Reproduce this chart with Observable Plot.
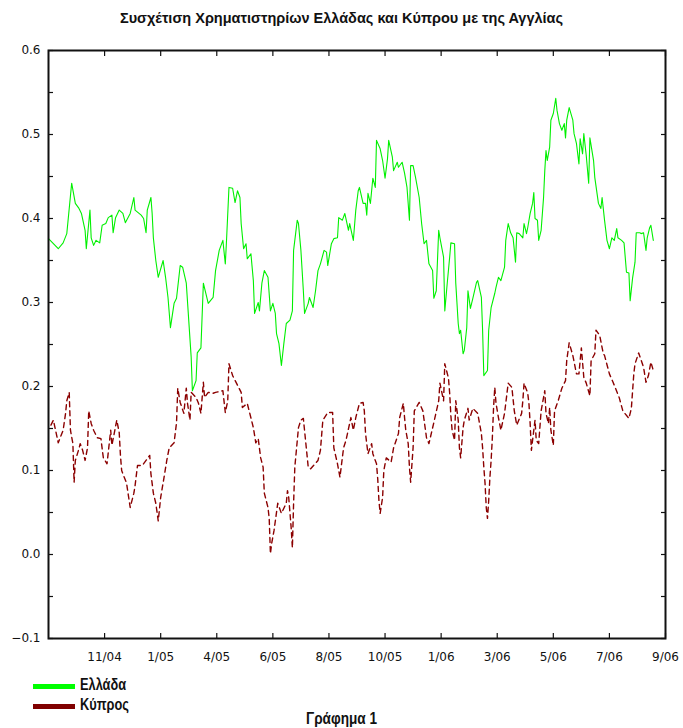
<!DOCTYPE html>
<html>
<head>
<meta charset="utf-8">
<script src="https://cdn.jsdelivr.net/npm/d3@7"></script>
<script src="https://cdn.jsdelivr.net/npm/@observablehq/plot@0.6"></script>
<style>
  html, body { margin: 0; padding: 0; background: #fff; }
  #page { position: relative; width: 683px; height: 728px; overflow: hidden; background: #fff; }
  #title { position: absolute; top: 10px; left: 0; width: 683px; text-align: center;
           font: bold 14.5px "Liberation Sans", Arial, sans-serif; color: #111; }
  #chart { position: absolute; top: 40px; left: 0; }
  .leg { position: absolute; left: 33px; height: 18px; font: bold 16px "Liberation Sans", Arial, sans-serif; color: #111; }
  .leg .sw { position: absolute; left: 0; top: 7px; width: 42px; height: 5px; }
  .leg .tx { position: absolute; left: 47px; top: -1px; white-space: nowrap; transform: scaleX(0.8); transform-origin: left center; }
  #caption { position: absolute; top: 710px; left: 0; width: 683px; text-align: center;
             font: bold 16px "Liberation Sans", Arial, sans-serif; color: #111; transform: scaleX(0.85); }
</style>
</head>
<body>
<div id="page">
  <div id="title"></div>
  <div id="chart"></div>
  <div class="leg" id="leg0" style="top:677px"><span class="sw"></span><span class="tx"></span></div>
  <div class="leg" id="leg1" style="top:697px"><span class="sw"></span><span class="tx"></span></div>
  <div id="caption"></div>
</div>
<script>
const titleText = "Συσχέτιση Χρηματιστηρίων Ελλάδας και Κύπρου με της Αγγλίας";
const captionText = "Γράφημα 1";
const seriesNames = ["Ελλάδα", "Κύπρος"];
const seriesColors = ["#00f000", "#8b0000"];
const legendColors = ["#00ff00", "#800000"];

// x axis: trading-day index, labelled at evenly spaced positions
const xDomain = [0, 506];
const xTickDays = [46, 92, 138, 184, 230, 276, 322, 368, 414, 460, 506];
const xTickLabels = ["11/04", "1/05", "4/05", "6/05", "8/05", "10/05", "1/06", "3/06", "5/06", "7/06", "9/06"];
const yDomain = [-0.1, 0.6];
const yMajor = [-0.1, 0.0, 0.1, 0.2, 0.3, 0.4, 0.5, 0.6];
const yMinor = [-0.05, 0.05, 0.15, 0.25, 0.35, 0.45, 0.55];

// [trading day, correlation]
const greece = [[0,.376],[8,.364],[12,.371],[15,.382],[19,.442],[22,.418],[25,.412],[27,.406],[30,.386],[31,.364],[34,.410],[35,.377],[37,.368],[39,.374],[42,.371],[44,.392],[47,.394],[49,.401],[52,.404],[53,.383],[55,.401],[58,.410],[61,.406],[63,.395],[67,.406],[70,.425],[71,.410],[76,.404],[78,.400],[80,.383],[81,.410],[84,.425],[85,.406],[86,.377],[88,.350],[90,.330],[94,.350],[96,.330],[98,.306],[100,.270],[103,.299],[105,.305],[108,.344],[110,.342],[113,.323],[115,.279],[117,.235],[118,.195],[121,.207],[122,.240],[125,.246],[127,.323],[131,.299],[135,.306],[137,.338],[140,.362],[143,.374],[145,.346],[146,.374],[148,.437],[151,.436],[153,.419],[155,.433],[157,.425],[158,.394],[160,.364],[162,.370],[163,.352],[166,.358],[168,.326],[169,.287],[172,.300],[173,.290],[175,.323],[177,.338],[180,.330],[182,.290],[184,.299],[186,.287],[187,.263],[189,.251],[191,.225],[193,.251],[195,.275],[198,.279],[200,.290],[201,.362],[204,.398],[205,.394],[207,.362],[209,.314],[210,.287],[213,.299],[214,.306],[217,.294],[219,.314],[221,.338],[223,.346],[226,.362],[228,.360],[229,.344],[232,.370],[234,.376],[237,.377],[238,.401],[241,.398],[243,.406],[246,.386],[247,.394],[250,.374],[252,.410],[254,.433],[255,.437],[258,.418],[260,.418],[261,.404],[262,.430],[264,.418],[266,.448],[268,.437],[269,.493],[272,.483],[274,.469],[276,.448],[278,.471],[279,.493],[282,.473],[283,.457],[286,.467],[287,.461],[290,.467],[292,.454],[294,.437],[296,.398],[297,.463],[299,.463],[301,.449],[304,.425],[306,.394],[308,.370],[310,.374],[312,.346],[315,.338],[316,.305],[318,.314],[320,.386],[321,.377],[324,.354],[325,.290],[327,.323],[329,.354],[330,.371],[333,.370],[334,.323],[336,.275],[337,.263],[338,.267],[340,.239],[341,.243],[343,.270],[344,.314],[346,.293],[348,.305],[351,.324],[352,.326],[355,.306],[356,.267],[357,.213],[360,.219],[361,.267],[363,.294],[366,.311],[367,.318],[369,.330],[371,.326],[374,.342],[375,.374],[377,.394],[379,.383],[381,.377],[383,.348],[384,.383],[386,.382],[389,.377],[390,.394],[392,.382],[393,.389],[395,.406],[397,.418],[398,.431],[399,.400],[401,.398],[402,.374],[404,.386],[406,.425],[407,.457],[408,.481],[409,.469],[411,.485],[412,.517],[414,.525],[416,.543],[417,.529],[419,.513],[421,.505],[423,.513],[424,.496],[425,.517],[427,.532],[430,.517],[431,.501],[433,.489],[435,.465],[436,.495],[438,.477],[439,.501],[441,.475],[443,.442],[444,.496],[447,.469],[448,.449],[451,.418],[453,.412],[454,.425],[456,.398],[458,.374],[460,.364],[462,.377],[464,.374],[466,.388],[467,.377],[470,.374],[472,.371],[474,.336],[476,.335],[477,.302],[479,.329],[481,.348],[482,.383],[485,.383],[486,.382],[488,.383],[490,.362],[491,.377],[493,.389],[494,.392],[496,.374]];

const cyprus = [[2,.154],[4,.160],[8,.133],[12,.148],[14,.168],[15,.183],[17,.193],[18,.148],[20,.132],[21,.086],[22,.112],[25,.126],[26,.132],[28,.124],[30,.112],[32,.127],[33,.171],[35,.156],[37,.148],[40,.139],[43,.138],[44,.126],[45,.115],[48,.108],[51,.148],[52,.130],[56,.160],[58,.145],[59,.118],[60,.100],[64,.085],[67,.056],[70,.073],[71,.082],[73,.106],[77,.106],[80,.112],[83,.118],[84,.096],[86,.073],[88,.061],[90,.040],[92,.068],[95,.094],[97,.112],[99,.127],[103,.133],[105,.157],[106,.198],[108,.181],[111,.168],[113,.198],[114,.180],[116,.160],[117,.193],[121,.187],[123,.180],[125,.168],[127,.205],[128,.187],[131,.193],[135,.192],[137,.193],[143,.195],[145,.169],[147,.183],[148,.227],[151,.213],[158,.193],[159,.175],[163,.180],[168,.151],[170,.133],[172,.138],[174,.115],[176,.104],[177,.073],[180,.056],[181,.043],[182,.001],[183,.013],[185,.029],[188,.061],[191,.049],[195,.061],[196,.076],[197,.068],[199,.032],[200,.008],[201,.061],[202,.104],[205,.151],[207,.160],[209,.162],[213,.104],[215,.102],[221,.112],[223,.124],[225,.160],[229,.169],[233,.169],[234,.127],[237,.108],[239,.092],[242,.127],[244,.136],[248,.163],[250,.148],[252,.163],[255,.180],[258,.181],[259,.171],[260,.144],[262,.120],[265,.132],[266,.120],[269,.108],[270,.090],[271,.064],[272,.049],[274,.068],[275,.100],[277,.115],[281,.110],[283,.127],[287,.144],[288,.163],[291,.180],[292,.163],[293,.148],[295,.132],[296,.104],[297,.086],[299,.127],[300,.171],[304,.181],[307,.171],[310,.139],[312,.132],[316,.157],[320,.183],[321,.204],[324,.183],[325,.227],[328,.210],[329,.192],[330,.165],[331,.148],[333,.136],[334,.183],[336,.160],[337,.127],[338,.115],[340,.151],[341,.160],[344,.174],[345,.160],[348,.174],[352,.168],[353,.160],[355,.144],[356,.127],[357,.104],[358,.085],[359,.056],[360,.043],[361,.064],[362,.092],[363,.112],[364,.139],[365,.175],[366,.199],[367,.180],[369,.163],[371,.148],[374,.168],[377,.204],[380,.199],[382,.171],[384,.154],[388,.168],[389,.183],[390,.204],[393,.192],[394,.180],[395,.156],[396,.124],[398,.148],[399,.160],[400,.136],[402,.132],[404,.171],[407,.195],[408,.168],[410,.156],[411,.175],[412,.148],[414,.130],[415,.171],[418,.183],[421,.198],[424,.207],[425,.231],[427,.252],[430,.237],[433,.215],[435,.215],[437,.246],[439,.211],[441,.204],[444,.189],[445,.231],[448,.239],[449,.267],[452,.261],[455,.239],[456,.237],[460,.215],[463,.205],[468,.187],[471,.171],[476,.162],[478,.174],[480,.215],[481,.227],[484,.240],[488,.223],[490,.205],[492,.213],[494,.229],[496,.219]];

document.getElementById("title").textContent = titleText;
document.getElementById("caption").textContent = captionText;
["leg0", "leg1"].forEach((id, i) => {
  const el = document.getElementById(id);
  el.querySelector(".sw").style.background = legendColors[i];
  el.querySelector(".tx").textContent = seriesNames[i];
});

const fmtY = d => (d < 0 ? "\u2212" : "") + Math.abs(d).toFixed(1);
const yAll = yMajor.concat(yMinor);
const blank = () => "";

const chart = Plot.plot({
  width: 683,
  height: 630,
  marginLeft: 48,
  marginRight: 18,
  marginTop: 10,
  marginBottom: 32,
  style: { fontFamily: "DejaVu Sans, sans-serif", fontSize: "12px", background: "transparent", color: "#111" },
  x: { domain: xDomain, label: null },
  y: { domain: yDomain, label: null },
  marks: [
    Plot.line(greece, { x: d => d[0], y: d => d[1], stroke: seriesColors[0], strokeWidth: 1.1 }),
    Plot.line(cyprus, { x: d => d[0], y: d => d[1], stroke: seriesColors[1], strokeWidth: 1.4, strokeDasharray: "5,4" }),
    Plot.axisY(yAll, { anchor: "left", tickSize: -5, tickFormat: blank, label: null, strokeWidth: 1.2 }),
    Plot.axisY(yAll, { anchor: "right", tickSize: -5, tickFormat: blank, label: null, strokeWidth: 1.2 }),
    Plot.axisY(yMajor, { anchor: "left", tickSize: 0, tickPadding: 8, tickFormat: fmtY, label: null }),
    Plot.axisX(xTickDays, { anchor: "bottom", tickSize: -5, tickFormat: blank, label: null, strokeWidth: 1.2 }),
    Plot.axisX(xTickDays, { anchor: "top", tickSize: -5, tickFormat: blank, label: null, strokeWidth: 1.2 }),
    Plot.axisX(xTickDays, { anchor: "bottom", tickSize: 0, tickPadding: 14, tickFormat: (d, i) => xTickLabels[xTickDays.indexOf(d)], label: null }),
    Plot.frame({ stroke: "#111", strokeWidth: 2 })
  ]
});
document.getElementById("chart").appendChild(chart);
</script>
</body>
</html>
